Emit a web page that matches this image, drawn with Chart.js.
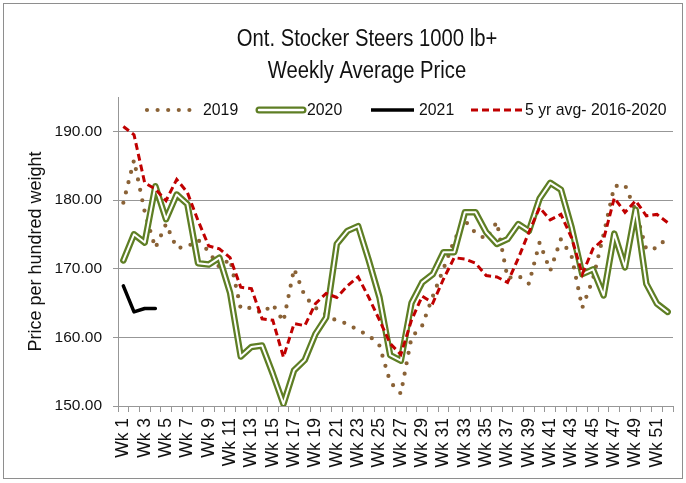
<!DOCTYPE html>
<html><head><meta charset="utf-8">
<script src="https://cdn.jsdelivr.net/npm/chart.js@4.4.1/dist/chart.umd.min.js"></script>
<style>
html,body{margin:0;padding:0;background:#fff;}
#wrap{position:relative;width:686px;height:483px;overflow:hidden;}
#frame{position:absolute;left:3px;top:3px;width:678px;height:474px;border:1px solid #8e8e8e;pointer-events:none;}
canvas{position:absolute;left:0;top:0;}
</style></head><body>
<div id="wrap"><canvas id="c" width="686" height="483"></canvas><div id="frame"></div></div>
<script>
// ---- data ----
const weeks = ['Wk 1','Wk 2','Wk 3','Wk 4','Wk 5','Wk 6','Wk 7','Wk 8','Wk 9','Wk 10','Wk 11','Wk 12','Wk 13','Wk 14','Wk 15','Wk 16','Wk 17','Wk 18','Wk 19','Wk 20','Wk 21','Wk 22','Wk 23','Wk 24','Wk 25','Wk 26','Wk 27','Wk 28','Wk 29','Wk 30','Wk 31','Wk 32','Wk 33','Wk 34','Wk 35','Wk 36','Wk 37','Wk 38','Wk 39','Wk 40','Wk 41','Wk 42','Wk 43','Wk 44','Wk 45','Wk 46','Wk 47','Wk 48','Wk 49','Wk 50','Wk 51','Wk 52'];
const yTicks = [150, 160, 170, 180, 190];
const seriesNames = ['2019', '2020', '2021', '5 yr avg- 2016-2020'];
const titleLines = ['Ont. Stocker Steers 1000 lb+', 'Weekly Average Price'];
const yTitle = 'Price per hundred weight';

const s2019 = [179.6,185.8,178.3,173.0,176.5,173.0,173.2,174.2,172.5,170.2,171.4,164.2,164.3,163.5,164.8,162.3,170.0,166.0,164.3,163.3,162.4,162.0,161.0,160.3,158.8,153.5,151.8,160.0,161.7,166.0,170.0,174.1,177.0,175.2,174.3,176.8,168.6,169.0,167.8,173.8,169.7,174.3,171.8,164.3,168.5,175.0,182.0,182.2,178.4,172.8,173.0,174.6];
const s2020 = [171.2,175.0,173.8,182.0,177.2,180.8,179.4,170.8,170.6,171.6,166.5,157.2,158.6,158.8,154.7,150.3,155.2,156.7,160.5,162.9,173.6,175.5,176.2,171.2,165.8,157.4,156.6,165.0,168.0,169.2,172.4,172.4,178.2,178.2,175.3,173.6,174.3,176.5,175.5,180.2,182.5,181.5,176.0,169.2,169.9,166.1,175.1,170.2,178.6,167.8,164.9,163.7];
const s2021 = [167.5,163.7,164.2,164.2];
const avg5 = [190.7,189.5,182.5,181.6,179.9,183.0,181.1,177.0,173.3,172.9,171.6,167.3,167.1,162.7,162.5,157.1,162.0,161.7,164.9,166.4,165.8,167.5,168.8,165.8,162.5,159.1,157.5,162.5,166.0,165.0,168.5,171.6,171.4,170.8,169.0,168.8,168.0,171.5,175.3,178.9,177.1,177.9,174.5,169.2,172.9,174.3,180.3,178.2,179.9,177.7,177.9,176.7];

// ---- styles ----
const BROWN = '#8a6236', GREEN = '#5e7e24', BLACK = '#000000', RED = '#c00000', GRID = '#979797', TXT = '#111111';
const hFont = "'Liberation Sans', Arial, sans-serif";
const rotFont = "'Liberation Sans', Arial, sans-serif";

const decorPlugin = {
  id: 'decor',
  afterDraw(chart){
    const ctx = chart.ctx;
    ctx.save();
    // title (slightly condensed, like the original's narrow face)
    ctx.fillStyle = TXT;
    ctx.textAlign = 'center';
    ctx.textBaseline = 'middle';
    ctx.font = '23px ' + hFont;
    [[titleLines[0], 40], [titleLines[1], 72]].forEach(([t, ty]) => {
      ctx.save(); ctx.translate(367, ty); ctx.scale(0.88, 1); ctx.fillText(t, 0, 0); ctx.restore();
    });
    // legend
    const y = 110;
    ctx.lineJoin = 'round';
    ctx.beginPath(); ctx.strokeStyle = BROWN; ctx.lineWidth = 4.2; ctx.lineCap = 'round';
    ctx.setLineDash([0, 10.6]); ctx.moveTo(147, y); ctx.lineTo(200, y); ctx.stroke();
    ctx.setLineDash([]);
    ctx.beginPath(); ctx.strokeStyle = GREEN; ctx.lineWidth = 7; ctx.lineCap = 'round';
    ctx.moveTo(259, y); ctx.lineTo(303, y); ctx.stroke();
    ctx.beginPath(); ctx.strokeStyle = '#ffffff'; ctx.lineWidth = 2.4;
    ctx.moveTo(259, y); ctx.lineTo(303, y); ctx.stroke();
    ctx.beginPath(); ctx.strokeStyle = BLACK; ctx.lineWidth = 3.5; ctx.lineCap = 'butt';
    ctx.moveTo(371, y); ctx.lineTo(414, y); ctx.stroke();
    ctx.beginPath(); ctx.strokeStyle = RED; ctx.lineWidth = 3; ctx.setLineDash([7, 4]);
    ctx.moveTo(471, y); ctx.lineTo(522, y); ctx.stroke();
    ctx.setLineDash([]);
    ctx.textAlign = 'left';
    ctx.font = '17px ' + hFont;
    ctx.fillStyle = TXT;
    [[seriesNames[0], 203], [seriesNames[1], 307], [seriesNames[2], 419], [seriesNames[3], 525]].forEach(([t, tx]) => {
      ctx.save(); ctx.translate(tx, y); ctx.scale(0.93, 1); ctx.fillText(t, 0, 0); ctx.restore();
    });
    ctx.restore();
  }
};

new Chart(document.getElementById('c'), {
  type: 'line',
  data: {
    labels: weeks,
    datasets: [
      {label: seriesNames[0], data: s2019, borderColor: BROWN, borderWidth: 4.2, borderDash: [0, 10.6], borderCapStyle: 'round', pointRadius: 0, tension: 0, fill: false, order: 5},
      {label: seriesNames[1], data: s2020, borderColor: GREEN, borderWidth: 6.5, borderJoinStyle: 'round', borderCapStyle: 'round', pointRadius: 0, tension: 0, fill: false, order: 4},
      {label: seriesNames[1] + ' (inner)', data: s2020, borderColor: '#ffffff', borderWidth: 2, borderJoinStyle: 'round', borderCapStyle: 'round', pointRadius: 0, tension: 0, fill: false, order: 3},
      {label: seriesNames[2], data: s2021, borderColor: BLACK, borderWidth: 3.5, borderJoinStyle: 'round', borderCapStyle: 'round', pointRadius: 0, tension: 0, fill: false, order: 2},
      {label: seriesNames[3], data: avg5, borderColor: RED, borderWidth: 3, borderDash: [7, 4], borderJoinStyle: 'miter', pointRadius: 0, tension: 0, fill: false, order: 1}
    ]
  },
  options: {
    responsive: false,
    animation: false,
    devicePixelRatio: 1,
    layout: {padding: {left: 4, right: 13, top: 97, bottom: 6}},
    plugins: {
      legend: {display: false},
      tooltip: {enabled: false},
      title: {display: false}
    },
    scales: {
      x: {
        type: 'category',
        offset: true,
        afterFit: s => { s.height = 71; s.paddingLeft = 0; s.paddingRight = 0; },
        grid: {offset: true, drawOnChartArea: false, drawTicks: true, tickLength: 6, color: GRID},
        border: {display: true, color: GRID, width: 1},
        ticks: {
          autoSkip: false, maxRotation: 90, minRotation: 90, padding: 6,
          font: {family: rotFont, size: 17.5}, color: TXT,
          callback: function(v, i){ return i % 2 === 0 ? this.getLabelForValue(v) : ''; }
        }
      },
      y: {
        min: 150, max: 195,
        afterBuildTicks: s => { s.ticks = yTicks.map(v => ({value: v})); },
        afterFit: s => { s.width = 114; s.paddingTop = 0; s.paddingBottom = 0; },
        grid: {color: GRID, lineWidth: 1, drawTicks: true, tickLength: 5},
        border: {display: true, color: GRID, width: 1},
        ticks: {padding: 11, font: {family: hFont, size: 15.5}, color: TXT, callback: v => Number(v).toFixed(2)},
        title: {display: true, text: yTitle, font: {family: rotFont, size: 18}, color: TXT, padding: {top: 21.7, bottom: 0}}
      }
    }
  },
  plugins: [decorPlugin]
});
</script>
</body></html>
